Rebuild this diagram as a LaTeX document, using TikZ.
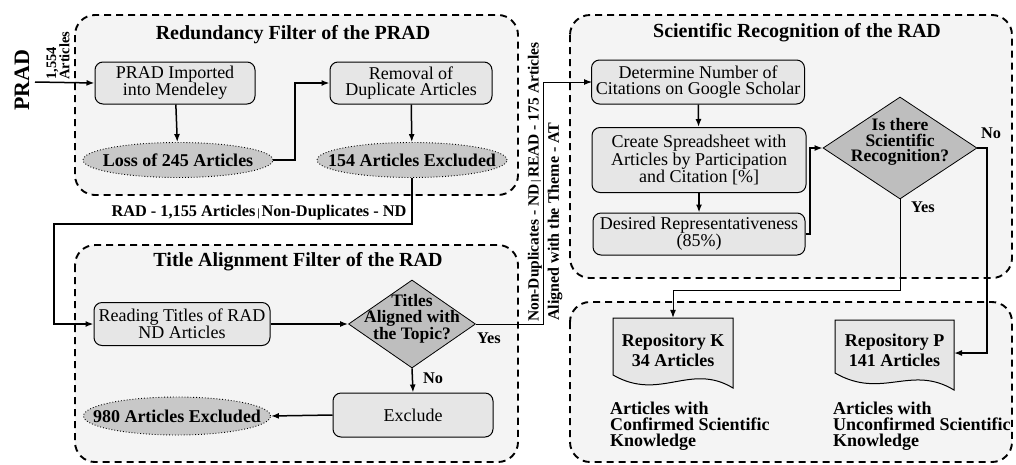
\documentclass[tikz,border=0pt]{standalone}
\usepackage{fontspec}
\setmainfont{Liberation Serif}
\usetikzlibrary{arrows.meta,shapes.geometric}
\definecolor{boxbg}{HTML}{F4F4F4}
\definecolor{nodebg}{HTML}{E6E6E6}
\definecolor{ellbg}{HTML}{C8C8C8}
\definecolor{diabg}{HTML}{BEBEBE}
\newcommand\barsep{{\fontsize{11}{11}\selectfont\,|\,}}
\begin{document}
\begin{tikzpicture}[x=1pt,y=-1pt,
  group/.style={draw, dash pattern=on 7pt off 5pt, line width=1.9pt, rounded corners=20pt, fill=boxbg},
  gtitle/.style={font=\bfseries\fontsize{20}{20}\selectfont, inner sep=0pt},
  proc/.style={draw, line width=1pt, rounded corners=8pt, fill=nodebg, align=center, font=\fontsize{18}{16}\selectfont, inner sep=1pt},
  excl/.style={ellipse, draw, dotted, line width=0.9pt, fill=ellbg, inner sep=0pt},
  excltext/.style={font=\bfseries\fontsize{18}{18}\selectfont, inner sep=0pt},
  dec/.style={diamond, draw, line width=0.8pt, fill=diabg, inner sep=0pt},
  dectext/.style={align=center, font=\bfseries\fontsize{17.5}{15.5}\selectfont, inner sep=0pt},
  doc/.style={draw, line width=1pt, fill=nodebg},
  doctext/.style={align=center, font=\bfseries\fontsize{18}{20}\selectfont, inner sep=0pt},
  lbl/.style={font=\bfseries\fontsize{16.3}{16}\selectfont, inner sep=0pt},
  note/.style={align=left, font=\bfseries\fontsize{18}{16}\selectfont, inner sep=0pt},
  conn/.style={line width=1.5pt, -{Latex[length=8pt,width=6pt]}},
  thin/.style={line width=1pt, -{Latex[length=8pt,width=6pt]}}
]
\useasboundingbox (0,0) rectangle (1016,464);

% group boxes
\draw[group] (75,15) rectangle (518,195);
\draw[group] (75,245) rectangle (518,462);
\draw[group] (570,15) rectangle (1012,278);
\draw[group] (570,302) rectangle (1012,462);

\node[gtitle] (t1) at (293,35) {Redundancy Filter of the PRAD};
\node[gtitle] (t2) at (298,262) {Title Alignment Filter of the RAD};
\node[gtitle] (t3) at (797,33) {Scientific Recognition of the RAD};

% left input
\node[rotate=90, font=\bfseries\fontsize{22}{22}\selectfont, inner sep=0pt] (prad) at (22,80) {PRAD};
\node[rotate=90, anchor=west, align=left, font=\bfseries\fontsize{14.5}{10.5}\selectfont, inner sep=0pt] (n1554) at (58,80) {1,554\\Articles};
\coordinate (in) at (35,82);

% redundancy filter
\node[proc, minimum width=160pt, minimum height=42pt] (imp) at (175,83) {PRAD Imported\\into Mendeley};
\node[proc, minimum width=162pt, minimum height=42pt] (rem) at (411,83) {Removal of\\Duplicate Articles};
\node[excl, minimum width=190pt, minimum height=35pt, label={[excltext]center:Loss of 245 Articles}] (loss) at (178,160) {};
\node[excl, minimum width=190pt, minimum height=35pt, label={[excltext]center:154 Articles Excluded}] (ex154) at (412,160) {};

\draw[conn] (in) -- (imp.west);
\draw[conn] (imp) -- (loss);
\draw[conn] (loss.east) -- (295,160) |- (rem.west);
\draw[conn] (rem) -- (ex154);

% transfer to title filter
\node[lbl] (radlbl) at (259,213) {RAD - 1,155 Articles\barsep Non-Duplicates - ND};

% title alignment filter
\node[proc, minimum width=176pt, minimum height=43pt] (read) at (182,324) {Reading Titles of RAD\\ND Articles};
\node[dec, minimum width=127pt, minimum height=88pt] (d1) at (412,324) {};
\node[dectext] (d1t) at (412,319) {Titles\\Aligned with\\the Topic?};
\node[proc, minimum width=160pt, minimum height=44pt] (exc) at (413,415) {Exclude};
\node[excl, minimum width=187pt, minimum height=38pt, label={[excltext]center:980 Articles Excluded}] (ex980) at (177,416) {};

\draw[conn] (ex154.south) -- (412,224) -- (54,224) |- (read.west);
\draw[conn] (read.east) -- (d1.west);
\draw[conn] (d1.south) -- (exc.north);
\draw[conn] (exc.west) -- (ex980.east);
\node[lbl] (no1) at (433,378) {No};
\node[lbl] (yes1) at (489,338) {Yes};

% transfer to scientific recognition
\draw[thin] (d1.east) -- (543,324) -- (543,82) -- (592,82);
\node[rotate=90, anchor=west, lbl, font=\bfseries\fontsize{15.5}{16}\selectfont] (ndlbl) at (535,322) {Non-Duplicates - ND\barsep READ - 175 Articles};
\node[rotate=90, anchor=west, lbl, font=\bfseries\fontsize{16}{16}\selectfont] (atlbl) at (555,321) {Aligned with the Theme - AT};

% scientific recognition
\node[proc, minimum width=213pt, minimum height=44pt] (det) at (698,82) {Determine Number of\\Citations on Google Scholar};
\node[proc, minimum width=214pt, minimum height=65pt] (cre) at (699,160) {Create Spreadsheet with\\Articles by Participation\\and Citation [\%]};
\node[proc, minimum width=212pt, minimum height=42pt] (des) at (699,234) {Desired Representativeness\\(85\%)};
\node[dec, minimum width=154pt, minimum height=102pt] (d2) at (900,148) {};
\node[dectext] (d2t) at (900,142) {Is there\\Scientific\\Recognition?};

\draw[conn] (det) -- (cre);
\draw[conn] (cre) -- (des);
\draw[conn] (des.east) -- (810,234) |- (d2.west);
\node[lbl] (no2) at (991,133) {No};
\node[lbl] (yes2) at (923,207) {Yes};

% repositories
\node[minimum width=120pt, minimum height=70pt, inner sep=0pt] (rk) at (673,353) {};
\draw[doc] (613,318) -- (733,318) -- (733,388) .. controls (690,362) and (660,402) .. (613,375) -- cycle;
\node[doctext] (rkt) at (673,350) {Repository K\\34 Articles};
\node[minimum width=119pt, minimum height=70pt, inner sep=0pt] (rp) at (894.5,355) {};
\draw[doc] (835,320) -- (954,320) -- (954,390) .. controls (911,364) and (882,400) .. (835,373) -- cycle;
\node[doctext] (rpt) at (894.5,350) {Repository P\\141 Articles};

\draw[thin] (d2.south) -- (900,290) -| (rk.north);
\draw[conn] (d2.east) -- (987,148) |- (954,353);

\node[note, anchor=north west] (nk) at (610,402) {Articles with\\Confirmed Scientific\\Knowledge};
\node[note, anchor=north west] (np) at (833,402) {Articles with\\Unconfirmed Scientific\\Knowledge};
\end{tikzpicture}
\end{document}
